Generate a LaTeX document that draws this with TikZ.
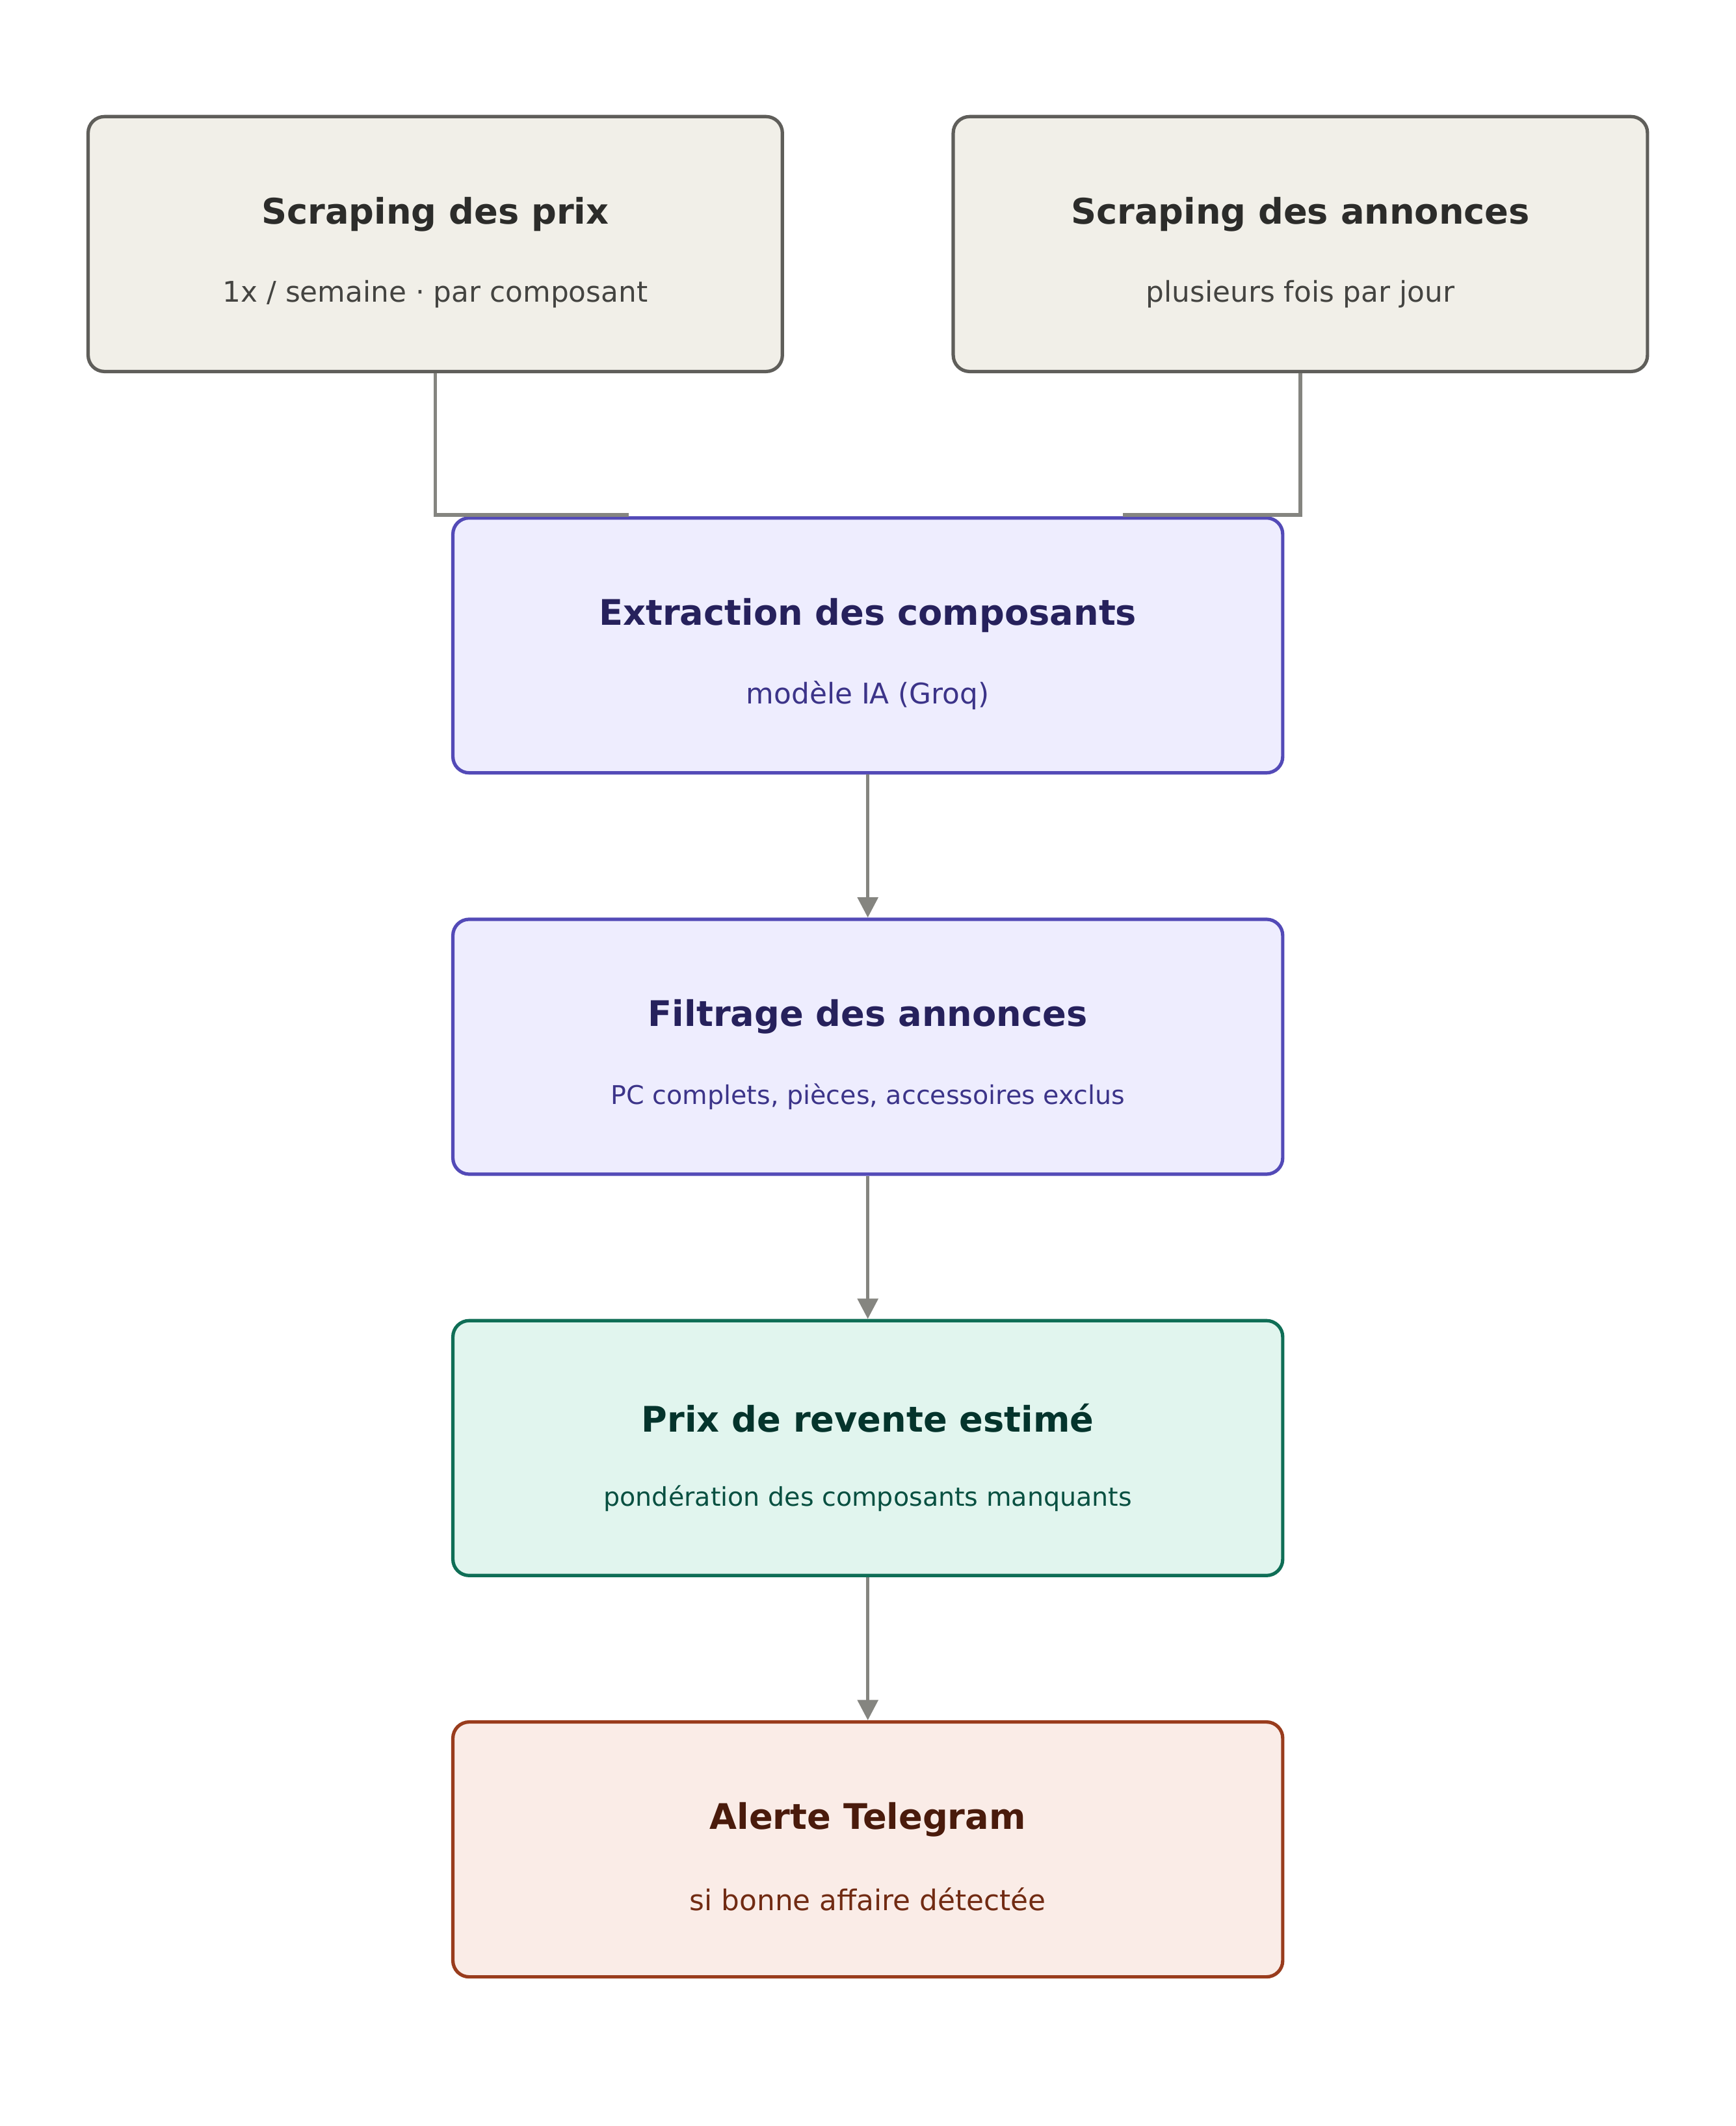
\documentclass[tikz,border=0pt]{standalone}
\usepackage{fontspec}
\setmainfont{DejaVu Sans}
\usetikzlibrary{arrows.meta,calc}
\definecolor{gfill}{HTML}{F1EFE8}\definecolor{gdraw}{HTML}{5F5E5A}\definecolor{gt}{HTML}{2C2C2A}\definecolor{gs}{HTML}{444441}
\definecolor{pfill}{HTML}{EEEDFE}\definecolor{pdraw}{HTML}{534AB7}\definecolor{pt}{HTML}{26215C}\definecolor{ps}{HTML}{3C3489}
\definecolor{tfill}{HTML}{E1F5EE}\definecolor{tdraw}{HTML}{0F6E56}\definecolor{tt}{HTML}{04342C}\definecolor{ts}{HTML}{085041}
\definecolor{ofill}{HTML}{FAECE7}\definecolor{odraw}{HTML}{993C1D}\definecolor{ot}{HTML}{4A1B0C}\definecolor{os}{HTML}{712B13}
\definecolor{conn}{HTML}{858580}
\begin{document}
\begin{tikzpicture}[x=1pt,y=-1pt,
 box/.style={rectangle,rounded corners=12pt,line width=2.5pt,minimum width=612pt,minimum height=188pt,inner sep=0pt},
 tl/.style={font=\fontsize{26}{30}\selectfont\bfseries},
 sb/.style={font=\fontsize{21}{25}\selectfont},
 sbs/.style={font=\fontsize{19}{23}\selectfont},
 con/.style={draw=conn,line width=2.5pt},
 arr/.style={con,-{Triangle[width=15pt,length=15pt]}}]
\useasboundingbox (0,0) rectangle (1280,1568);
\node[box,fill=gfill,draw=gdraw,minimum width=512pt] (A) at (321,180) {};
\node[box,fill=gfill,draw=gdraw,minimum width=512pt] (B) at (959,180) {};
\node[box,fill=pfill,draw=pdraw] (C) at (640,476) {};
\node[box,fill=pfill,draw=pdraw] (D) at (640,772) {};
\node[box,fill=tfill,draw=tdraw] (E) at (640,1068) {};
\node[box,fill=ofill,draw=odraw] (F) at (640,1364) {};
\node[tl,text=gt] (At) at ($(A)+(0,-22)$) {Scraping des prix};
\node[sb,text=gs] (As) at ($(A)+(0,37)$) {1x / semaine · par composant};
\node[tl,text=gt] (Bt) at ($(B)+(0,-22)$) {Scraping des annonces};
\node[sb,text=gs] (Bs) at ($(B)+(0,37)$) {plusieurs fois par jour};
\node[tl,text=pt] (Ct) at ($(C)+(0,-22)$) {Extraction des composants};
\node[sb,text=ps] (Cs) at ($(C)+(0,37)$) {modèle IA (Groq)};
\node[tl,text=pt] (Dt) at ($(D)+(0,-22)$) {Filtrage des annonces};
\node[sbs,text=ps] (Ds) at ($(D)+(0,37)$) {PC complets, pièces, accessoires exclus};
\node[tl,text=tt] (Et) at ($(E)+(0,-22)$) {Prix de revente estimé};
\node[sbs,text=ts] (Es) at ($(E)+(0,37)$) {pondération des composants manquants};
\node[tl,text=ot] (Ft) at ($(F)+(0,-22)$) {Alerte Telegram};
\node[sb,text=os] (Fs) at ($(F)+(0,37)$) {si bonne affaire détectée};
\coordinate (cl) at ($(C.north west)+(131,-1)$);
\coordinate (cr) at ($(C.north east)+(-119,-1)$);
\draw[con] (A.south) |- (cl);
\draw[con] (B.south) |- (cr);
\draw[arr] (C) -- (D);
\draw[arr] (D) -- (E);
\draw[arr] (E) -- (F);
\end{tikzpicture}
\end{document}
